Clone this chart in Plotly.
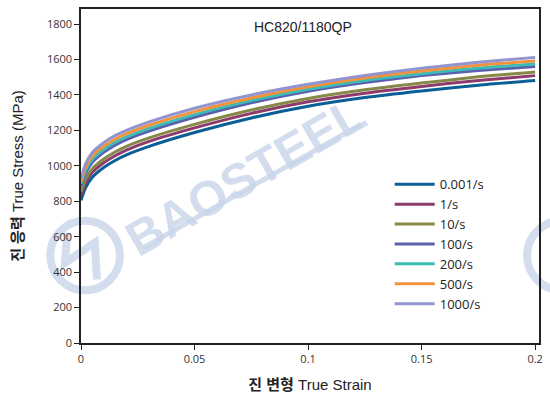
import plotly.graph_objects as go

strain = [0, 0.002, 0.005, 0.01, 0.015, 0.02, 0.03, 0.05, 0.075, 0.1, 0.125, 0.15, 0.175, 0.2]

s_0001 = [805, 875, 935, 990, 1030, 1062, 1110, 1188, 1270, 1336, 1385, 1422, 1455, 1481]
s_1 = [835, 903, 963, 1017, 1057, 1089, 1138, 1214, 1296, 1361, 1410, 1448, 1482, 1509]
s_10 = [853, 922, 983, 1038, 1078, 1110, 1158, 1234, 1315, 1380, 1429, 1467, 1502, 1530]
s_100 = [885, 958, 1020, 1076, 1117, 1148, 1196, 1274, 1356, 1421, 1470, 1509, 1538, 1560]
s_200 = [898, 975, 1037, 1092, 1132, 1163, 1211, 1289, 1368, 1432, 1482, 1520, 1552, 1575]
s_500 = [910, 990, 1054, 1110, 1150, 1181, 1229, 1306, 1383, 1446, 1496, 1535, 1568, 1591]
s_1000 = [928, 1010, 1075, 1130, 1170, 1200, 1248, 1325, 1400, 1460, 1510, 1550, 1584, 1612]

names = ["0.001/s", "1/s", "10/s", "100/s", "200/s", "500/s", "1000/s"]
series = [s_0001, s_1, s_10, s_100, s_200, s_500, s_1000]
colors = ["#0b5f96", "#8c3b6c", "#878848", "#5a5fb0", "#3cbcb4", "#f2923c", "#9294cf"]

x_ticks = [0, 0.05, 0.1, 0.15, 0.2]
x_tick_labels = ["0", "0.05", "0.1", "0.15", "0.2"]
y_ticks = [0, 200, 400, 600, 800, 1000, 1200, 1400, 1600, 1800]

fig = go.Figure()

for name, ys, c in zip(names, series, colors):
    fig.add_trace(go.Scatter(x=strain, y=ys, mode="lines", name=name,
                             line=dict(color=c, width=3, shape="spline", smoothing=0.6)))

# watermark (behind traces)
wm = "rgba(200,212,232,0.8)"
fig.add_annotation(xref="paper", yref="paper", x=0.36, y=0.50, text="<b>BAOSTEEL</b>",
                   textangle=-30, showarrow=False,
                   font=dict(family="Liberation Sans, Arial", size=49, color=wm))
fig.add_shape(type="line", xref="paper", yref="paper", x0=0.137, y0=0.286, x1=0.612, y1=0.655,
              line=dict(color=wm, width=5), layer="below")
fig.add_shape(type="circle", xref="paper", yref="paper", x0=-0.067, y0=0.158, x1=0.085, y1=0.366,
              line=dict(color=wm, width=8), layer="below")
fig.add_shape(type="path", xref="paper", yref="paper",
              path="M -0.03,0.33 L -0.035,0.24 L 0.03,0.30 L 0.035,0.19",
              line=dict(color=wm, width=8), layer="below")
fig.add_shape(type="circle", xref="paper", yref="paper", x0=0.974, y0=0.158, x1=1.126, y1=0.366,
              line=dict(color=wm, width=8), layer="below")

fig.add_annotation(xref="paper", yref="paper", x=0.485, y=0.945, text="HC820/1180QP",
                   showarrow=False, xanchor="center", yanchor="middle",
                   font=dict(family="Liberation Sans, Arial", size=14, color="#222"))

axis_common = dict(showline=True, linecolor="#222", linewidth=1.5, mirror=True,
                   ticks="outside", ticklen=5, tickcolor="#222", showgrid=False, zeroline=False,
                   tickfont=dict(family="Open Sans", size=11, color="#333"))

fig.update_xaxes(range=[0, 0.2017], tickvals=x_ticks, ticktext=x_tick_labels,
                 title=dict(text="<b>진 변형</b> True Strain", standoff=15,
                            font=dict(family="Liberation Sans, Noto Sans CJK KR", size=15, color="#222")),
                 **axis_common)
fig.update_yaxes(range=[0, 1885], tickvals=y_ticks,
                 title=dict(text="<b>진 응력</b> True Stress (MPa)", standoff=20,
                            font=dict(family="Liberation Sans, Noto Sans CJK KR", size=15, color="#222")),
                 **axis_common)

fig.update_layout(
    width=550, height=402,
    margin=dict(l=81, r=8, t=7, b=59),
    paper_bgcolor="white", plot_bgcolor="rgba(0,0,0,0)",
    showlegend=True,
    legend=dict(x=0.674, y=0.52, xanchor="left", yanchor="top", bgcolor="rgba(0,0,0,0)",
                font=dict(family="Open Sans", size=13, color="#222"), tracegroupgap=0,
                itemwidth=40),
)

fig.write_html("out.html")
